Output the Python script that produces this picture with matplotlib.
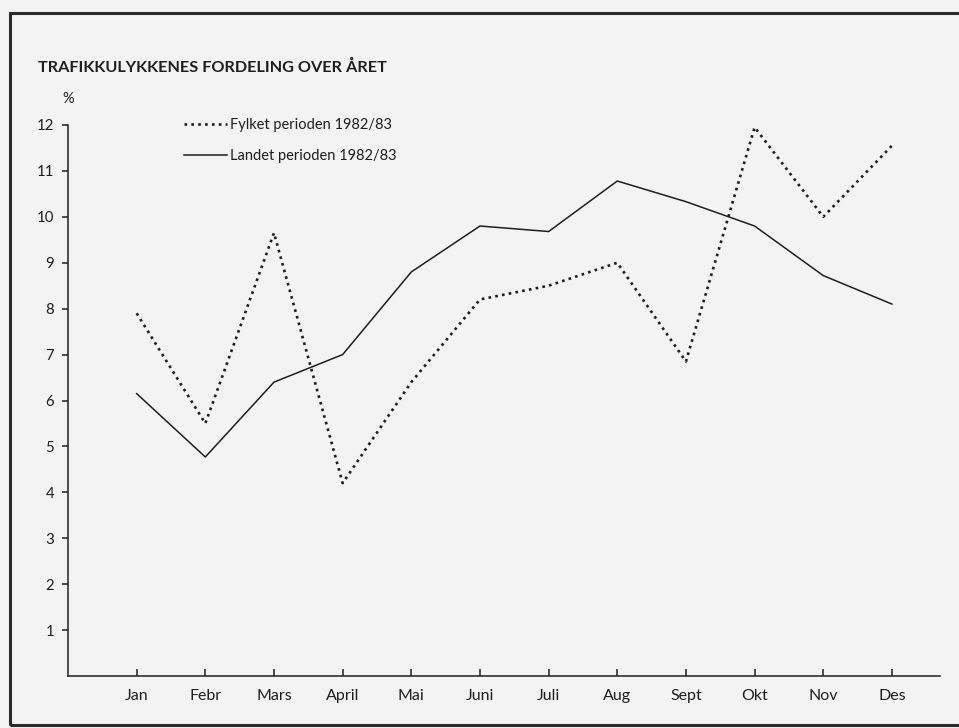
import matplotlib.pyplot as plt
from matplotlib.patches import Rectangle

# Chart data
MONTHS = ["Jan", "Febr", "Mars", "April", "Mai", "Juni",
          "Juli", "Aug", "Sept", "Okt", "Nov", "Des"]
FYLKET = [7.9, 5.5, 9.65, 4.2, 6.4, 8.2, 8.5, 9.0, 6.85, 11.95, 10.0, 11.55]
LANDET = [6.15, 4.77, 6.4, 7.0, 8.8, 9.8, 9.68, 10.78, 10.33, 9.8, 8.72, 8.1]
Y_TICKS = [1, 2, 3, 4, 5, 6, 7, 8, 9, 10, 11, 12]

TITLE = "TRAFIKKULYKKENES FORDELING OVER ÅRET"
FONT = "Lato"
BG = "#f3f3f3"
INK = "#1e1e1e"

W, H = 959, 728
fig = plt.figure(figsize=(W / 100, H / 100), dpi=100, facecolor=BG)

# outer frame of the printed figure
fig.patches.append(Rectangle((10 / W, 1 - 725 / H), 1.2, (725 - 13) / H,
                             transform=fig.transFigure, fill=False,
                             edgecolor="#2a2a2a", linewidth=2.2))

ax = fig.add_axes([68 / W, 1 - 676 / H, (940 - 68) / W, (676 - 125) / H])
ax.set_facecolor(BG)

x = list(range(1, len(MONTHS) + 1))
ax.plot(x, FYLKET, color=INK, linewidth=1.9, linestyle=(0, (1, 1.6)),
        label="Fylket perioden 1982/83")
ax.plot(x, LANDET, color=INK, linewidth=1.1,
        label="Landet perioden 1982/83")

ax.set_xlim(0, 12.7)
ax.set_ylim(0, 12)
ax.spines["top"].set_visible(False)
ax.spines["right"].set_visible(False)
for s in ("left", "bottom"):
    ax.spines[s].set_color(INK)
    ax.spines[s].set_linewidth(1.1)

ax.set_xticks(x)
ax.set_xticklabels(MONTHS, fontfamily=FONT, fontsize=11.5, color=INK)
ax.set_yticks(Y_TICKS)
ax.set_yticklabels([str(v) for v in Y_TICKS], fontfamily=FONT,
                   fontsize=10.8, color=INK)
ax.tick_params(axis="x", direction="in", length=5, width=1.1, pad=9.5,
               color=INK)
ax.tick_params(axis="y", direction="out", length=4, width=1.1, pad=6,
               color=INK)

fig.text(38 / W, 1 - 67 / H, TITLE, fontfamily=FONT, fontweight="bold",
         fontsize=11.7, color=INK, va="center", ha="left")
fig.text(68 / W, 1 - 99 / H, "%", fontfamily=FONT, fontsize=10.5,
         color=INK, va="center", ha="center")

ax.legend(loc="upper left", bbox_to_anchor=(177 / W, 1 - 111 / H),
          bbox_transform=fig.transFigure, frameon=False, borderpad=0,
          handlelength=2.9, handletextpad=0.25, labelspacing=1.12,
          prop={"family": FONT, "size": 10.5}, labelcolor=INK)

fig.savefig("out.png", dpi=100, facecolor=BG)
